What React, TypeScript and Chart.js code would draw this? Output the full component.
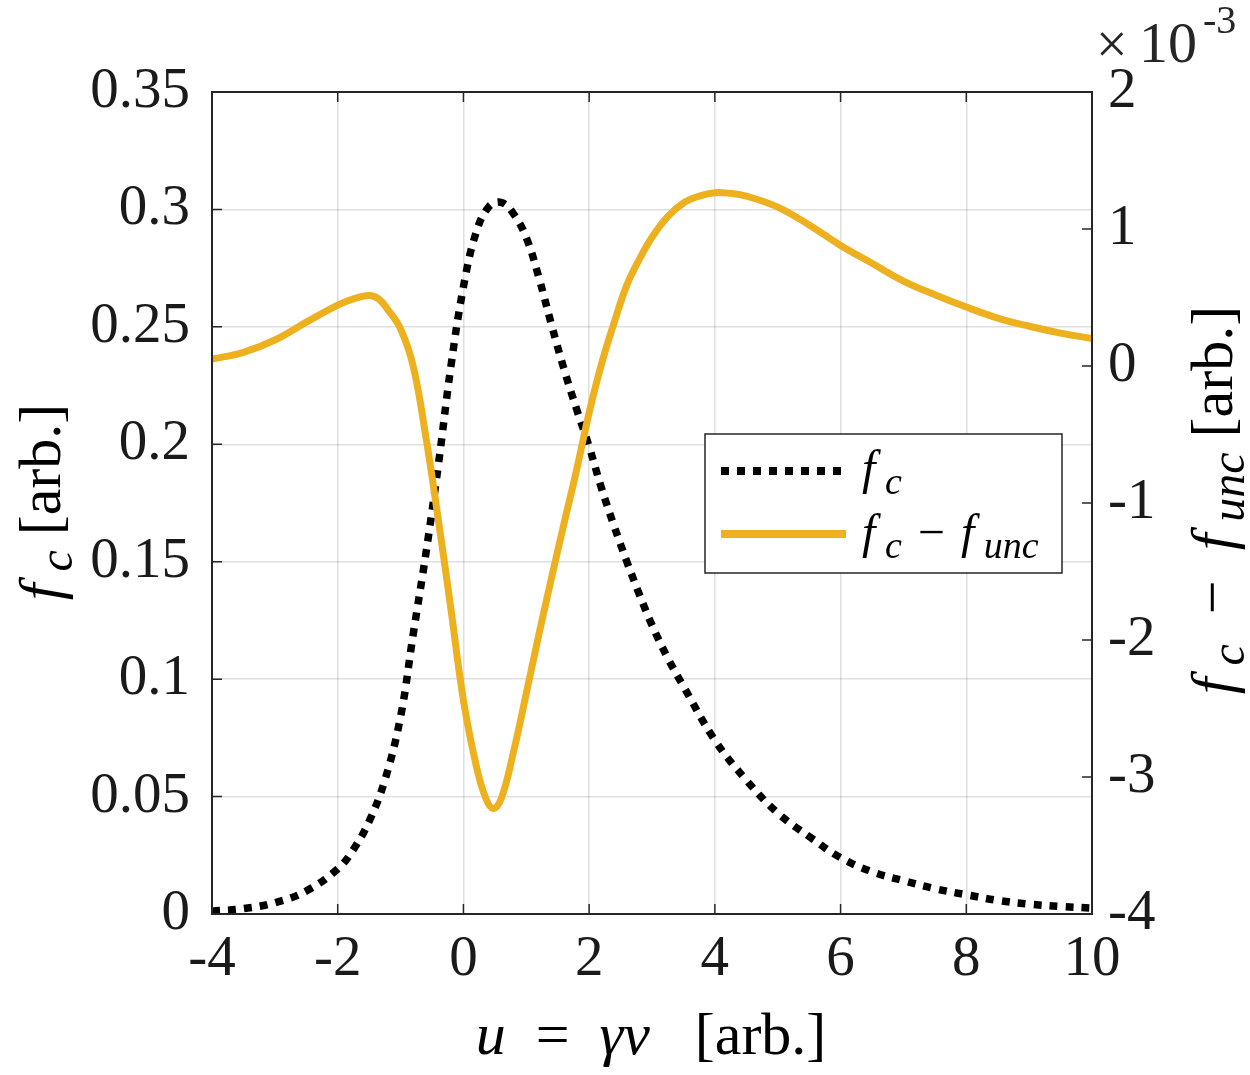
import React, { useEffect, useRef } from "react";
import { Chart, registerables } from "chart.js";

Chart.register(...registerables);

// f_c (left axis)
const fcU = [-4, -3.5, -3, -2.5, -2, -1.75, -1.5, -1.25, -1, -0.8, -0.6, -0.4, -0.2, 0, 0.2, 0.4, 0.6, 0.8, 1, 1.2, 1.4, 1.6, 1.8, 2, 2.2, 2.4, 2.6, 2.8, 3, 3.25, 3.5, 4, 4.5, 5, 5.5, 6, 6.5, 7, 7.5, 8, 8.5, 9, 9.5, 10];
const fcVal = [0.0012, 0.0023, 0.0048, 0.0098, 0.0192, 0.0275, 0.0395, 0.057, 0.084, 0.119, 0.153, 0.191, 0.233, 0.267, 0.290, 0.301, 0.303, 0.298, 0.288, 0.271, 0.251, 0.232, 0.215, 0.199, 0.181, 0.165, 0.150, 0.136, 0.123, 0.109, 0.097, 0.074, 0.057, 0.043, 0.033, 0.024, 0.018, 0.0142, 0.0108, 0.0082, 0.0058, 0.0042, 0.0032, 0.0025];

// f_c - f_unc (right axis, in units of 1e-3)
const diffU = [-4, -3.5, -3, -2.5, -2, -1.75, -1.5, -1.35, -1.2, -1, -0.8, -0.6, -0.4, -0.2, 0, 0.2, 0.35, 0.47, 0.6, 0.8, 1, 1.2, 1.4, 1.6, 1.8, 2, 2.2, 2.4, 2.6, 2.8, 3, 3.25, 3.5, 3.75, 4, 4.25, 4.5, 5, 5.5, 6, 6.5, 7, 7.5, 8, 8.5, 9, 9.5, 10];
const diffVal = [0.05, 0.10, 0.19, 0.32, 0.445, 0.49, 0.515, 0.49, 0.41, 0.27, 0.0, -0.51, -1.12, -1.77, -2.44, -2.91, -3.15, -3.23, -3.16, -2.81, -2.39, -1.96, -1.55, -1.15, -0.76, -0.34, 0.02, 0.32, 0.59, 0.78, 0.94, 1.09, 1.19, 1.24, 1.265, 1.26, 1.24, 1.16, 1.03, 0.88, 0.75, 0.62, 0.52, 0.43, 0.35, 0.29, 0.24, 0.20];

const uTicks = [-4, -2, 0, 2, 4, 6, 8, 10];
const fcTicks = [0, 0.05, 0.1, 0.15, 0.2, 0.25, 0.3, 0.35];
const diffTicks = [-4, -3, -2, -1, 0, 1, 2];

const FONT = '"Liberation Serif", "Times New Roman", serif';
const AXIS = "#262626";
const GRID = "rgba(38,38,38,0.15)";
const ORANGE = "#EDB120";

type Run = { t: string; it?: boolean; sub?: boolean };

function runFont(r: Run, size: number) {
  return `${r.it ? "italic " : ""}${r.sub ? Math.round(size * 0.8) : size}px ${FONT}`;
}

function runsWidth(ctx: CanvasRenderingContext2D, runs: Run[], size: number) {
  let w = 0;
  for (const r of runs) {
    ctx.font = runFont(r, size);
    w += ctx.measureText(r.t).width;
  }
  return w;
}

function drawRuns(ctx: CanvasRenderingContext2D, runs: Run[], x: number, y: number, size: number, center = false) {
  let cx = center ? x - runsWidth(ctx, runs, size) / 2 : x;
  ctx.textBaseline = "alphabetic";
  ctx.textAlign = "left";
  for (const r of runs) {
    ctx.font = runFont(r, size);
    ctx.fillText(r.t, cx, y + (r.sub ? size * 0.2 : 0));
    cx += ctx.measureText(r.t).width;
  }
}

const EN = "\u2002";
const MID = "\u2004";
const leftTitle: Run[] = [{ t: "f\u2009", it: true }, { t: "c", it: true, sub: true }, { t: " [arb.]" }];
const rightTitle: Run[] = [
  { t: "f\u2009", it: true }, { t: "c", it: true, sub: true }, { t: EN + "\u2212" + EN },
  { t: "f\u2009", it: true }, { t: "unc", it: true, sub: true }, { t: " [arb.]" },
];
const xTitle: Run[] = [{ t: "u", it: true }, { t: EN + "=" + EN }, { t: "\u03b3v", it: true }, { t: EN + " [arb.]" }];
const legend1: Run[] = [{ t: "f\u2009", it: true }, { t: "c", it: true, sub: true }];
const legend2: Run[] = [
  { t: "f\u2009", it: true }, { t: "c", it: true, sub: true }, { t: MID + "\u2212" + MID },
  { t: "f\u2009", it: true }, { t: "unc", it: true, sub: true },
];

const decorPlugin = {
  id: "decor",
  afterDraw(chart: any) {
    const ctx: CanvasRenderingContext2D = chart.ctx;
    const ca = chart.chartArea;
    const sx = chart.scales.x;
    const sy = chart.scales.y;
    const sy2 = chart.scales.y2;
    ctx.save();

    // inward tick marks
    ctx.strokeStyle = AXIS;
    ctx.lineWidth = 1.5;
    ctx.beginPath();
    for (const v of uTicks) {
      const px = sx.getPixelForValue(v);
      ctx.moveTo(px, ca.bottom); ctx.lineTo(px, ca.bottom - 10);
      ctx.moveTo(px, ca.top); ctx.lineTo(px, ca.top + 10);
    }
    for (const v of fcTicks) {
      const py = sy.getPixelForValue(v);
      ctx.moveTo(ca.left, py); ctx.lineTo(ca.left + 10, py);
    }
    for (const v of diffTicks) {
      const py = sy2.getPixelForValue(v);
      ctx.moveTo(ca.right, py); ctx.lineTo(ca.right - 10, py);
    }
    ctx.stroke();

    // box
    ctx.lineWidth = 2;
    ctx.strokeRect(ca.left, ca.top, ca.right - ca.left, ca.bottom - ca.top);

    // legend
    ctx.fillStyle = "#fff";
    ctx.fillRect(705, 434, 357, 139);
    ctx.lineWidth = 1.5;
    ctx.strokeStyle = AXIS;
    ctx.strokeRect(705, 434, 357, 139);
    ctx.lineCap = "butt";
    ctx.strokeStyle = "#000";
    ctx.lineWidth = 8;
    ctx.setLineDash([8, 8]);
    ctx.beginPath(); ctx.moveTo(721, 471); ctx.lineTo(845, 471); ctx.stroke();
    ctx.setLineDash([]);
    ctx.strokeStyle = ORANGE;
    ctx.beginPath(); ctx.moveTo(721, 534); ctx.lineTo(846, 534); ctx.stroke();
    ctx.fillStyle = "#000";
    drawRuns(ctx, legend1, 862, 484, 48);
    drawRuns(ctx, legend2, 862, 548, 48);

    // axis titles
    ctx.fillStyle = "#000";
    drawRuns(ctx, xTitle, 651, 1054, 60, true);
    ctx.save();
    ctx.translate(60, 502);
    ctx.rotate(-Math.PI / 2);
    drawRuns(ctx, leftTitle, 0, 0, 60, true);
    ctx.restore();
    ctx.save();
    ctx.translate(1232, 500);
    ctx.rotate(-Math.PI / 2);
    drawRuns(ctx, rightTitle, 0, 0, 60, true);
    ctx.restore();

    // exponent label
    ctx.fillStyle = AXIS;
    ctx.font = `56px ${FONT}`;
    ctx.fillText("\u00d7", 1096, 63);
    ctx.font = `58px ${FONT}`;
    ctx.fillText("10", 1139, 62);
    ctx.font = `40px ${FONT}`;
    ctx.fillText("-3", 1203, 33);

    ctx.restore();
  },
};

const App = () => {
  const canvasRef = useRef<HTMLCanvasElement | null>(null);

  useEffect(() => {
    const ctx = canvasRef.current?.getContext("2d");
    if (!ctx) return;
    const tickFont = { family: FONT, size: 57 };

    const chart = new Chart(ctx, {
      type: "line",
      data: {
        datasets: [
          {
            label: "f_c - f_unc",
            data: diffU.map((u, i) => ({ x: u, y: diffVal[i] })),
            yAxisID: "y2",
            borderColor: ORANGE,
            borderWidth: 7,
            pointRadius: 0,
            tension: 0.4,
            order: 0,
          },
          {
            label: "f_c",
            data: fcU.map((u, i) => ({ x: u, y: fcVal[i] })),
            yAxisID: "y",
            borderColor: "#000",
            borderWidth: 7.5,
            borderDash: [8, 8],
            borderCapStyle: "butt",
            pointRadius: 0,
            tension: 0.4,
            order: 1,
          },
        ],
      },
      options: {
        animation: false,
        responsive: false,
        devicePixelRatio: 1,
        layout: { padding: { top: 92, left: 0, right: 0, bottom: 0 } },
        plugins: { legend: { display: false }, tooltip: { enabled: false } },
        scales: {
          x: {
            type: "linear",
            min: -4,
            max: 10,
            afterBuildTicks: (s: any) => { s.ticks = uTicks.map((v) => ({ value: v })); },
            afterFit: (s: any) => { s.height = 161; },
            ticks: { font: tickFont, color: "#1a1a1a", padding: 12, maxRotation: 0, callback: (v: any) => String(v) },
            grid: { color: GRID, lineWidth: 1.5, drawTicks: false },
            border: { display: false },
          },
          y: {
            type: "linear",
            position: "left",
            min: 0,
            max: 0.35,
            afterBuildTicks: (s: any) => { s.ticks = fcTicks.map((v) => ({ value: v })); },
            afterFit: (s: any) => { s.width = 212; },
            ticks: { font: tickFont, color: "#1a1a1a", padding: 22, callback: (v: any) => String(v) },
            grid: { color: GRID, lineWidth: 1.5, drawTicks: false },
            border: { display: false },
          },
          y2: {
            type: "linear",
            position: "right",
            min: -4,
            max: 2,
            afterBuildTicks: (s: any) => { s.ticks = diffTicks.map((v) => ({ value: v })); },
            afterFit: (s: any) => { s.width = 158; },
            ticks: { font: tickFont, color: "#1a1a1a", padding: 16, callback: (v: any) => String(v) },
            grid: { drawOnChartArea: false, drawTicks: false },
            border: { display: false },
          },
        },
      },
      plugins: [decorPlugin],
    } as any);

    return () => {
      chart.destroy();
    };
  }, []);

  return (
    <div style={{ position: "absolute", left: 0, top: 0, width: 1250, height: 1075, background: "#fff" }}>
      <canvas ref={canvasRef} width={1250} height={1075} />
    </div>
  );
};

export default App;
